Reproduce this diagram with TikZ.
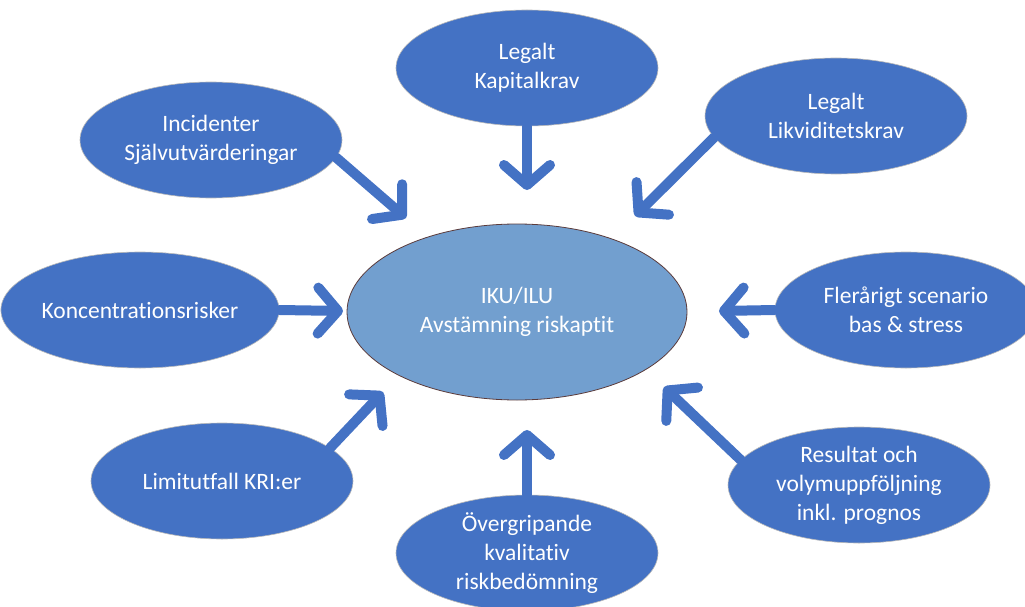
\documentclass[tikz,border=0pt]{standalone}
\usepackage{fontspec}
\setmainfont{Carlito}[Ligatures={NoCommon}]
\usepackage{tikz}
\usetikzlibrary{positioning, shapes.geometric, arrows.meta, calc}
\definecolor{boxblue}{HTML}{4472C4}
\definecolor{midblue}{HTML}{729FCF}
\definecolor{rimbrown}{HTML}{5B3B3B}

\tikzset{
	outer/.style={ellipse, fill=boxblue, draw=gray!55, line width=0.6pt, text=white, align=center, inner sep=0pt, minimum width=262pt, minimum height=116pt, font=\fontsize{23.5}{29}\selectfont},
	pil/.style={draw=boxblue, line width=10pt, line cap=round, -{Straight Barb[length=20pt, width=46pt, round]}}
}

\begin{document}
\begin{tikzpicture}[x=1pt, y=-1pt]
	\useasboundingbox (0,0) rectangle (1025,607);
	\clip (0,0) rectangle (1025,607);
	%% centre
	\node[ellipse, fill=midblue, draw=rimbrown, line width=0.8pt, text=white, align=center, minimum width=340pt, minimum height=176pt, inner sep=0pt, font=\fontsize{23.5}{29}\selectfont] (ctr) at (517,312) {IKU/ILU\\Avstämning riskaptit};
	
	\node[outer] (kap) at (527,68) {Legalt\\Kapitalkrav};
	\node[outer] (lik) at (836,116) {Legalt\\Likviditetskrav};
	\node[outer] (inc) at (211,140) {Incidenter\\Självutvärderingar};
	\node[outer] (konc) at (140,310) {Koncentrationsrisker};
	\node[outer] (fler) at (906,310) {Flerårigt scenario\\bas \& stress};
	\node[outer] (lim) at (222,481) {Limitutfall KRI:er};
	\node[outer] (ovr) at (527,553) {Övergripande\\kvalitativ\\riskbedömning};
	\node[outer] (res) at (859,485) {Resultat och\\volymuppföljning\\inkl. prognos};
	
	%% arrow tips, short of the centre
	\coordinate (tkap) at (527,190);
	\coordinate (tlik) at (635,216);
	\coordinate (tinc) at (406,218);
	\coordinate (tkonc) at (343,311);
	\coordinate (tfler) at (719,311);
	\coordinate (tlim) at (383,392);
	\coordinate (tovr) at (527,430);
	\coordinate (tres) at (664,387);
	
	\draw[pil] (kap.south) -- (tkap);
	\draw[pil] (lik.190) -- (tlik);
	\draw[pil] (inc.-8) -- (tinc);
	\draw[pil] (konc.east) -- (tkonc);
	\draw[pil] (fler.west) -- (tfler);
	\draw[pil] (lim.17) -- (tlim);
	\draw[pil] (ovr.north) -- (tovr);
	\draw[pil] (res.168) -- (tres);
\end{tikzpicture}
\end{document}
